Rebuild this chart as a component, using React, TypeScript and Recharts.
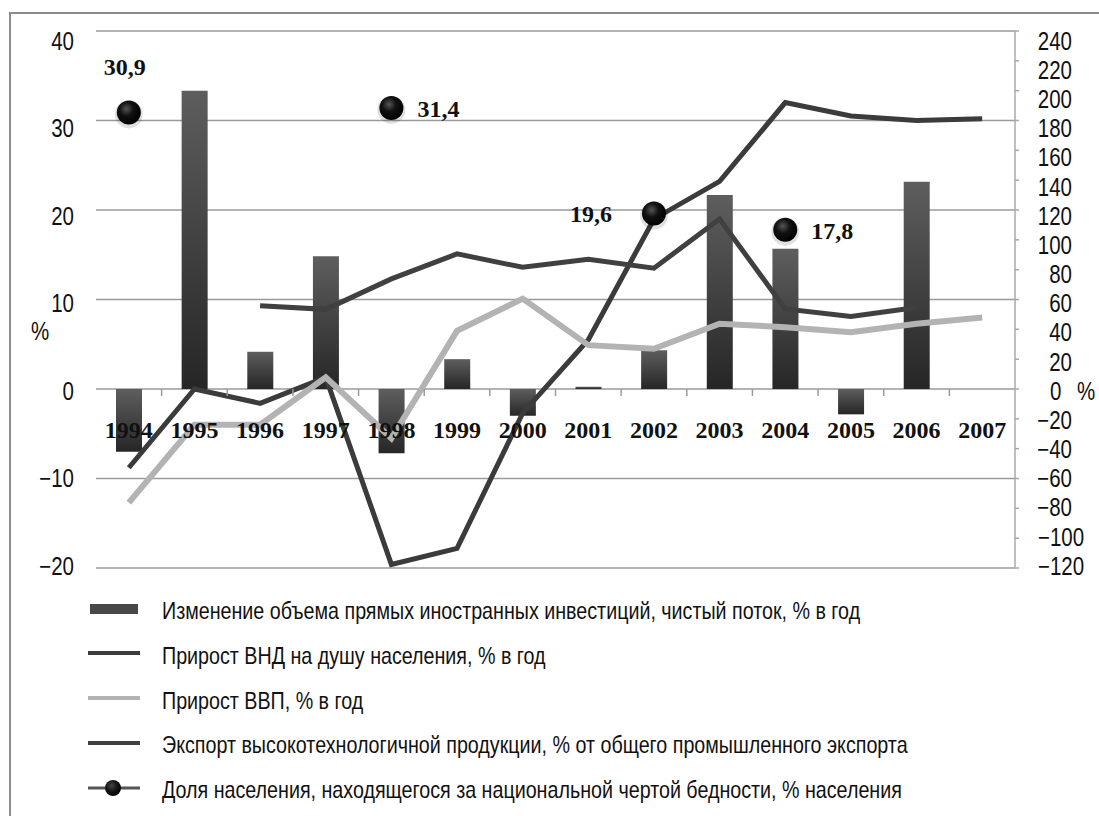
import React from 'react';
import { ComposedChart, Bar, Line, XAxis, YAxis, CartesianGrid, Legend, LabelList } from 'recharts';

const years = ['1994', '1995', '1996', '1997', '1998', '1999', '2000', '2001', '2002', '2003', '2004', '2005', '2006', '2007'];
const fdiChange = [-42, 200, 25, 89, -43, 20, -18, 1.5, 26, 130, 94, -17, 139, null];
const gniGrowth = [-8.8, 0, -1.6, 1.3, -19.6, -17.8, -2.7, 5.5, 19.0, 23.2, 32.0, 30.5, 30.0, 30.2];
const gdpGrowth = [-12.7, -4.0, -4.0, 1.3, -5.5, 6.5, 10.1, 4.9, 4.5, 7.3, 6.9, 6.35, 7.3, 8.0];
const hiTechExport = [null, null, 9.3, 8.9, 12.3, 15.1, 13.6, 14.5, 13.5, 19.0, 8.95, 8.1, 9.1, null];
const povertyShare = [30.9, null, null, null, 31.4, null, null, null, 19.6, null, 17.8, null, null, null];

const leftTicks = [-20, -10, 0, 10, 20, 30, 40];
const rightTicks = [-120, -100, -80, -60, -40, -20, 0, 20, 40, 60, 80, 100, 120, 140, 160, 180, 200, 220, 240];

const seriesNames = [
  'Изменение объема прямых иностранных инвестиций, чистый поток, % в год',
  'Прирост ВНД на душу населения, % в год',
  'Прирост ВВП, % в год',
  'Экспорт высокотехнологичной продукции, % от общего промышленного экспорта',
  'Доля населения, находящегося за национальной чертой бедности, % населения',
];

const povertyLabelSide: Record<string, string> = { '1994': 'top', '1998': 'right', '2002': 'left', '2004': 'right' };

const data = years.map((y, i) => ({
  year: y,
  fdi: fdiChange[i],
  gni: gniGrowth[i],
  gdp: gdpGrowth[i],
  hitech: hiTechExport[i],
  poverty: povertyShare[i],
}));

const W = 1099;
const H = 816;
const PLOT_TOP = 31;
const PLOT_BOTTOM = 568;
const LEFT_MIN = -20;
const LEFT_MAX = 40;
const ZERO_Y = PLOT_TOP + (PLOT_BOTTOM - PLOT_TOP) * (LEFT_MAX / (LEFT_MAX - LEFT_MIN));

const SANS = "'Liberation Sans', Arial, sans-serif";
const SERIF = "'Liberation Serif', 'Times New Roman', serif";
const NARROW = 0.82;

const C_BAR_TOP = '#5e5e5e';
const C_BAR_BOT = '#262626';
const C_GNI = '#3b3b3b';
const C_GDP = '#b3b3b3';
const C_HT = '#404040';
const C_GRID = '#9a9a9a';

const fmt = (v: number) => (v < 0 ? '\u2212' + Math.abs(v) : String(v));

const drift = (v: number, min: number, max: number) => -2 + 12 * ((v - min) / (max - min));

const NarrowText = ({ x, y, anchor, children }: { x: number; y: number; anchor: 'start' | 'middle' | 'end'; children: any }) => (
  <text
    transform={`translate(${x},${y}) scale(${NARROW},1)`}
    x={0}
    y={0}
    textAnchor={anchor}
    dominantBaseline="central"
    fontFamily={SANS}
    fontSize={25}
    fill="#111"
  >
    {children}
  </text>
);

const LeftTick = (props: any) => {
  const { x, y, payload } = props;
  const v = payload.value as number;
  return <NarrowText x={x} y={y + drift(v, LEFT_MIN, LEFT_MAX)} anchor="end">{fmt(v)}</NarrowText>;
};

const RightTick = (props: any) => {
  const { x, y, payload } = props;
  const v = payload.value as number;
  const s = fmt(v);
  const yy = y + drift(v, -120, 240);
  if (v === 0) {
    return (
      <g>
        <NarrowText x={x + 12} y={yy} anchor="start">0</NarrowText>
        <NarrowText x={x + 39} y={yy} anchor="start">%</NarrowText>
      </g>
    );
  }
  if (s.length >= 4) {
    return <NarrowText x={x} y={yy} anchor="start">{s}</NarrowText>;
  }
  return <NarrowText x={x + 34} y={yy} anchor="end">{s}</NarrowText>;
};

const YearTick = (props: any) => {
  const { x, payload, index } = props;
  const half = payload && payload.offset ? payload.offset : 32.8;
  return (
    <g>
      {index > 0 && (
        <line x1={x - half} x2={x - half} y1={ZERO_Y} y2={ZERO_Y + 7} stroke={C_GRID} strokeWidth={1.5} />
      )}
      <text x={x} y={ZERO_Y + 49} textAnchor="middle" fontFamily={SERIF} fontWeight="bold" fontSize={24} fill="#111">
        {payload.value}
      </text>
    </g>
  );
};

const PovertyDot = (props: any) => {
  const { cx, cy, value, index } = props;
  if (value == null || cx == null || cy == null) return <g key={'pd' + index} />;
  return (
    <g key={'pd' + index}>
      <circle cx={cx} cy={cy + 2} r={14} fill="#000" opacity={0.12} />
      <circle cx={cx} cy={cy} r={12} fill="url(#ballGrad)" />
    </g>
  );
};

const PovertyLabel = (props: any) => {
  const { x, y, value, index } = props;
  if (value == null || x == null || y == null) return null;
  const side = povertyLabelSide[years[index]];
  const txt = String(value).replace('.', ',');
  let tx = x;
  let ty = y;
  let anchor: 'start' | 'middle' | 'end' = 'start';
  if (side === 'top') {
    tx = x - 4;
    ty = y - 37;
    anchor = 'middle';
  } else if (side === 'left') {
    tx = x - 42;
    ty = y + 8;
    anchor = 'end';
  } else {
    tx = x + 26;
    ty = y + 9;
    anchor = 'start';
  }
  return (
    <text x={tx} y={ty} textAnchor={anchor} fontFamily={SERIF} fontWeight="bold" fontSize={24} fill="#111">
      {txt}
    </text>
  );
};

const LegendIcon = ({ kind }: { kind: number }) => {
  return (
    <svg width={52} height={22} style={{ display: 'block' }}>
      {kind === 0 && <rect x={2} y={6} width={48} height={10} fill="#484848" />}
      {kind === 1 && <rect x={0} y={9} width={52} height={4} fill={C_GNI} />}
      {kind === 2 && <rect x={0} y={9} width={52} height={4} fill={C_GDP} />}
      {kind === 3 && <rect x={0} y={9} width={52} height={4} fill={C_HT} />}
      {kind === 4 && (
        <g>
          <rect x={0} y={9.5} width={52} height={3} fill="#555" />
          <circle cx={25} cy={11} r={8} fill="url(#legendBall)" />
        </g>
      )}
      <defs>
        <radialGradient id="legendBall" cx="40%" cy="35%" r="65%">
          <stop offset="0%" stopColor="#444" />
          <stop offset="60%" stopColor="#111" />
          <stop offset="100%" stopColor="#000" />
        </radialGradient>
      </defs>
    </svg>
  );
};

const LegendContent = () => (
  <div style={{ position: 'relative', width: W, height: 230 }}>
    {seriesNames.map((name, i) => (
      <div
        key={name}
        style={{
          position: 'absolute',
          left: 88,
          top: i * 44.8,
          height: 45,
          display: 'flex',
          alignItems: 'center',
          whiteSpace: 'nowrap',
        }}
      >
        <LegendIcon kind={i} />
        <span
          style={{
            display: 'inline-block',
            marginLeft: 22,
            fontFamily: SANS,
            fontSize: 24,
            color: '#111',
            lineHeight: '45px',
            transform: `translateY(2px) scaleX(${NARROW})`,
            transformOrigin: 'left center',
          }}
        >
          {name}
        </span>
      </div>
    ))}
  </div>
);

export default function App() {
  return (
    <div style={{ position: 'absolute', left: 0, top: 0, width: W, height: H, background: '#fff', overflow: 'hidden' }}>
      <div
        style={{
          position: 'absolute',
          left: 9,
          top: 12,
          width: W,
          height: H,
          borderTop: '2px solid #8c8c8c',
          borderLeft: '2px solid #8c8c8c',
        }}
      />
      <ComposedChart
        width={W}
        height={H}
        data={data}
        margin={{ top: PLOT_TOP, right: 0, left: 10, bottom: H - PLOT_BOTTOM - 20 }}
        barGap={0}
      >
        <defs>
          <linearGradient id="barGrad" x1="0" y1="0" x2="0" y2="1">
            <stop offset="0%" stopColor={C_BAR_TOP} />
            <stop offset="100%" stopColor={C_BAR_BOT} />
          </linearGradient>
          <radialGradient id="ballGrad" cx="40%" cy="35%" r="65%">
            <stop offset="0%" stopColor="#555" />
            <stop offset="45%" stopColor="#111" />
            <stop offset="100%" stopColor="#000" />
          </radialGradient>
        </defs>
        <CartesianGrid yAxisId="left" vertical={false} stroke={C_GRID} strokeWidth={1.5} />
        <XAxis
          dataKey="year"
          height={20}
          axisLine={false}
          tickLine={false}
          interval={0}
          tick={<YearTick />}
        />
        <YAxis
          yAxisId="left"
          width={86}
          domain={[LEFT_MIN, LEFT_MAX]}
          ticks={leftTicks}
          allowDataOverflow
          axisLine={false}
          tickLine={false}
          tickSize={0}
          tickMargin={22}
          tick={<LeftTick />}
          label={{
            content: (p: any) => {
              const vb = p.viewBox || { x: 10, y: PLOT_TOP, height: PLOT_BOTTOM - PLOT_TOP };
              return <NarrowText x={vb.x + 30} y={vb.y + vb.height / 2 + 32} anchor="middle">%</NarrowText>;
            },
          }}
        />
        <YAxis
          yAxisId="right"
          orientation="right"
          width={84}
          domain={[-120, 240]}
          ticks={rightTicks}
          interval={0}
          allowDataOverflow
          axisLine={{ stroke: '#a8a8a8', strokeWidth: 1.5 }}
          tickLine={{ stroke: '#a8a8a8', strokeWidth: 1.5 }}
          tickSize={4}
          tickMargin={19}
          tick={<RightTick />}
        />
        <Bar yAxisId="right" dataKey="fdi" name={seriesNames[0]} barSize={26} fill="url(#barGrad)" isAnimationActive={false} />
        <Line yAxisId="left" dataKey="gni" name={seriesNames[1]} stroke={C_GNI} strokeWidth={5} dot={false} activeDot={false} isAnimationActive={false} />
        <Line yAxisId="left" dataKey="gdp" name={seriesNames[2]} stroke={C_GDP} strokeWidth={6} dot={false} activeDot={false} isAnimationActive={false} />
        <Line yAxisId="left" dataKey="hitech" name={seriesNames[3]} stroke={C_HT} strokeWidth={5} dot={false} activeDot={false} isAnimationActive={false} />
        <Line
          yAxisId="left"
          dataKey="poverty"
          name={seriesNames[4]}
          stroke="none"
          dot={<PovertyDot />}
          activeDot={false}
          isAnimationActive={false}
        >
          <LabelList dataKey="poverty" content={<PovertyLabel />} />
        </Line>
        <Legend
          layout="vertical"
          align="center"
          verticalAlign="middle"
          content={<LegendContent />}
          wrapperStyle={{ left: 0, top: 586, width: W, height: 230 }}
        />
      </ComposedChart>
    </div>
  );
}
